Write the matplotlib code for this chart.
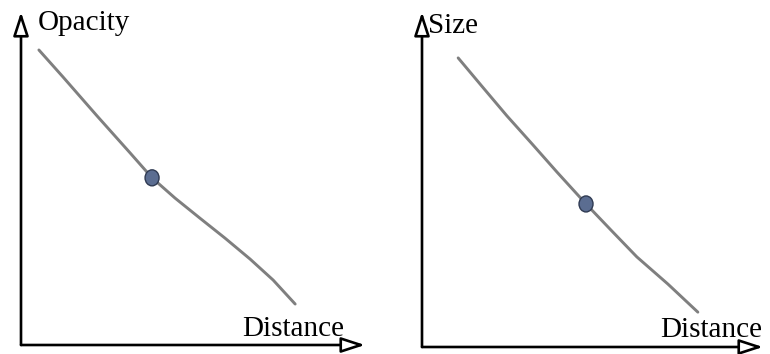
import matplotlib.pyplot as plt
from matplotlib.patches import Ellipse

plt.rcParams['font.family'] = ['Liberation Serif', 'DejaVu Serif']

# left panel: opacity vs distance (axis units 0..10)
opacity_dist = [0.52, 1.22, 2.21, 3.17, 3.81, 4.48, 5.20, 5.93, 6.66, 7.33, 7.97]
opacity_val = [8.86, 8.05, 6.88, 5.77, 5.02, 4.41, 3.81, 3.21, 2.58, 1.95, 1.23]
opacity_dot = (3.81, 5.02)

# right panel: size vs distance
size_dist = [1.06, 1.76, 2.49, 3.23, 3.96, 4.81, 5.57, 6.30, 7.21, 8.09]
size_val = [8.63, 7.78, 6.90, 6.06, 5.22, 4.27, 3.46, 2.69, 1.88, 1.04]
size_dot = (4.81, 4.27)

W, H = 770, 354
fig = plt.figure(figsize=(W / 100, H / 100), dpi=100)


def make_panel(x0, y0, x1, y1, xs, ys, dot, ylabel, ylab_pos, xlab_pos):
    """ One sketch panel: arrow axes, grey curve and a blue dot. """
    ax = fig.add_axes([x0 / W, (H - y0) / H, (x1 - x0) / W, (y0 - y1) / H])
    ax.set_xlim(0, 10)
    ax.set_ylim(0, 10)
    ax.axis('off')

    arrow = dict(arrowstyle='-|>,head_length=0.4,head_width=0.13',
                 mutation_scale=36, fc='white', ec='black', lw=1.9,
                 shrinkA=0, shrinkB=0)
    ax.annotate('', xy=(10, 0), xytext=(0, 0), arrowprops=arrow,
                annotation_clip=False)
    ax.annotate('', xy=(0, 10), xytext=(0, 0), arrowprops=arrow,
                annotation_clip=False)

    ax.plot(xs, ys, color='#7f7f7f', lw=2.1, solid_capstyle='round',
            solid_joinstyle='round', clip_on=False)
    px_x = 10 / (x1 - x0)
    px_y = 10 / (y0 - y1)
    ax.add_patch(Ellipse(dot, 14 * px_x, 16 * px_y, fc='#5b6d91',
                         ec='#2f3a52', lw=1.0, zorder=5, clip_on=False))

    ax.text(*ylab_pos, ylabel, fontsize=21, va='baseline', ha='left')
    ax.text(*xlab_pos, 'Distance', fontsize=21, va='baseline', ha='left')


make_panel(21, 345, 365, 12, opacity_dist, opacity_val, opacity_dot,
           'Opacity', (0.49, 9.46), (6.42, 0.27))
make_panel(422, 347, 763, 12, size_dist, size_val, size_dot,
           'Size', (0.18, 9.37), (6.98, 0.30))

fig.savefig('out.png', dpi=100)
